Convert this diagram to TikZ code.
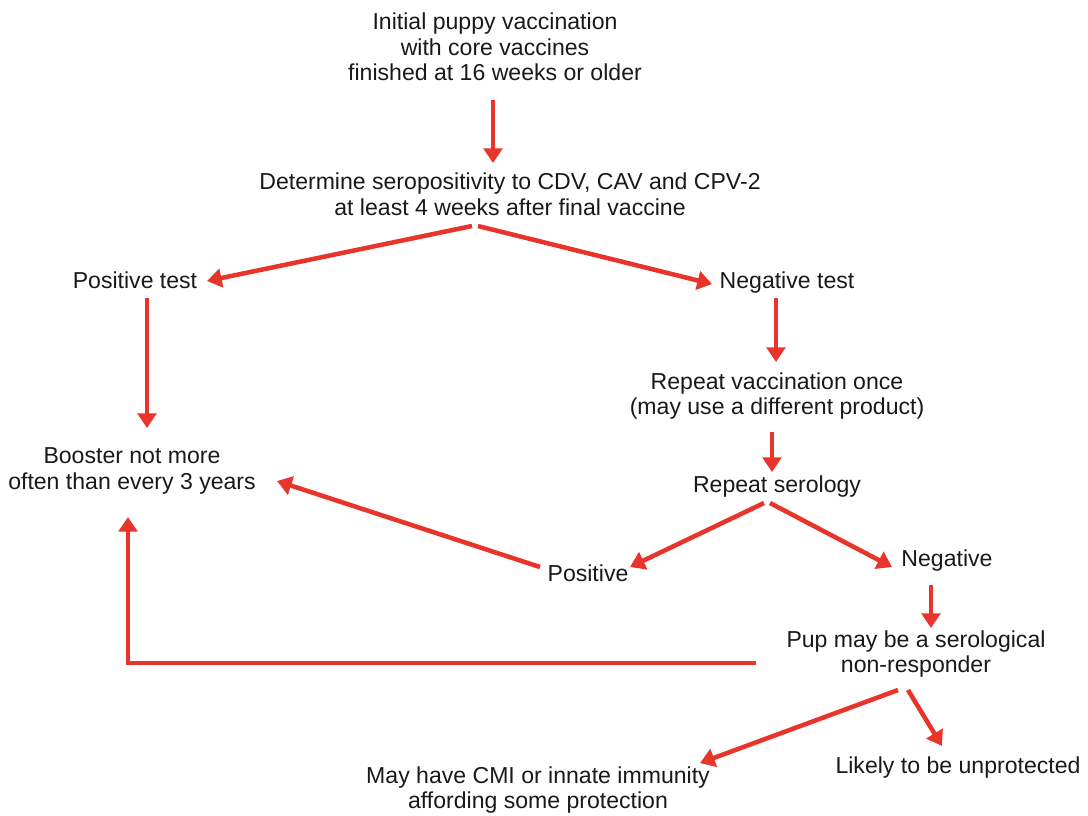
\documentclass[tikz,border=0pt]{standalone}
\usepackage{fontspec}
\setmainfont{Liberation Sans}
\usetikzlibrary{arrows.meta,calc}
\definecolor{arrred}{RGB}{232,52,42}
\definecolor{txt}{RGB}{25,25,25}
\begin{document}
\begin{tikzpicture}[x=0.75pt,y=-0.75pt,
  lbl/.style={inner sep=0pt,align=center,text=txt,font=\fontsize{17.3}{19.2}\selectfont},
  arr/.style={draw=arrred,line width=3.4pt,-{Triangle[width=14pt,length=11pt]}}]
\useasboundingbox (0,0) rectangle (1088,815);
\node[lbl] (init) at (495,47) {Initial puppy vaccination\\with core vaccines\\finished at 16 weeks or older};
\node[lbl] (det) at (510,194) {Determine seropositivity to CDV, CAV and CPV-2\\at least 4 weeks after final vaccine};
\node[lbl] (pos) at (135,280) {Positive test};
\node[lbl] (neg) at (787,283) {Negative test};
\node[lbl] (rep) at (777,396) {Repeat vaccination once\\(may use a different product)};
\node[lbl] (ser) at (777,487) {Repeat serology};
\node[lbl] (posi) at (588,573) {Positive};
\node[lbl] (nega) at (947,561) {Negative};
\node[lbl] (boost) at (132,471) {Booster not more\\often than every 3 years};
\node[lbl] (pup) at (916,654) {Pup may be a serological\\non-responder};
\node[lbl] (cmi) at (538,790) {May have CMI or innate immunity\\affording some protection};
\node[lbl] (likely) at (958,768) {Likely to be unprotected};

\draw[arr] ($(init)+(-2,53)$) -- ($(det)+(-17,-31)$);
\draw[arr] ($(det)+(-38,32)$) -- ($(pos)+(72,1)$);
\draw[arr] ($(det)+(-32,32)$) -- ($(neg)+(-75,1)$);
\draw[arr] ($(pos)+(12,18)$) -- ($(boost)+(15,-43)$);
\draw[arr] ($(neg)+(-11,15)$) -- ($(rep)+(-1,-34)$);
\draw[arr] ($(rep)+(-5,36)$) -- ($(ser)+(-5,-15)$);
\draw[arr] ($(ser)+(-13,16)$) -- ($(posi)+(42,-6)$);
\draw[arr] ($(ser)+(-7,16)$) -- ($(nega)+(-55,6)$);
\draw[arr] ($(posi)+(-48,-6)$) -- ($(boost)+(145,10)$);
\draw[arr] ($(nega)+(-16,24)$) -- ($(pup)+(15,-26)$);
\draw[arr,line join=miter] ($(pup)+(-160,9)$) -| ($(boost)+(-4,46)$);
\draw[arr] ($(pup)+(-18,36)$) -- ($(cmi)+(162,-27)$);
\draw[arr] ($(pup)+(-8,36)$) -- ($(likely)+(-16,-22)$);
\end{tikzpicture}
\end{document}
